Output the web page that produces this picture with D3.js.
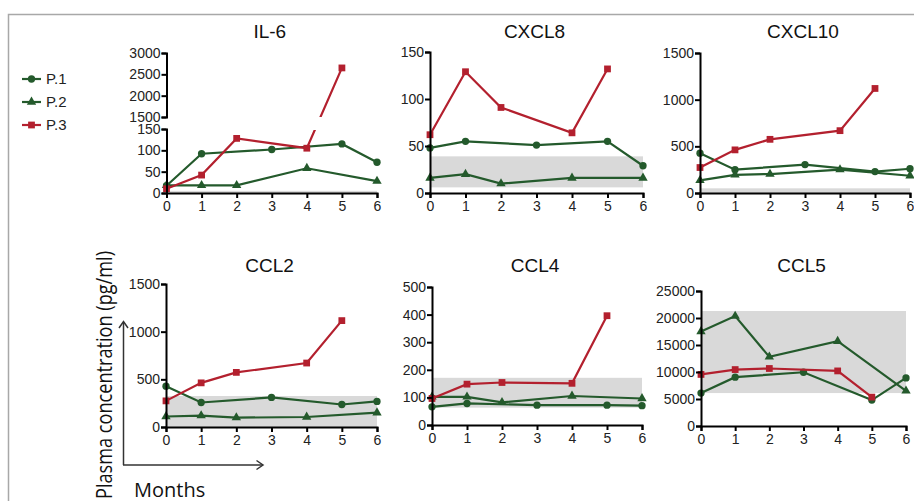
<!DOCTYPE html>
<html>
<head>
<meta charset="utf-8">
<script src="https://d3js.org/d3.v7.min.js"></script>
<style>
  body { margin: 0; background: #fff; }
  svg text { font-family: "Liberation Sans", Arial, sans-serif; }
</style>
</head>
<body>
<script>
// ---- data (null = no sample that month) ----
var months = [0, 1, 2, 3, 4, 5, 6];
var patients = ["P.1", "P.2", "P.3"];

var il6_p1 = [17, 92, null, 102, null, 115, 72];
var il6_p2 = [18, 18, 18, null, 58, null, 28];
var il6_p3 = [10, 42, 128, null, 105, 2650, null];

var cxcl8_p1 = [48, 55, null, 51, null, 55, 29];
var cxcl8_p2 = [16, 20, 10, null, 16, null, 16];
var cxcl8_p3 = [62, 129, 91, null, 64, 132, null];

var cxcl10_p1 = [427, 250, null, 305, null, 230, 260];
var cxcl10_p2 = [135, 195, 203, null, 250, null, 185];
var cxcl10_p3 = [273, 462, 575, null, 668, 1120, null];

var ccl2_p1 = [428, 257, null, 310, null, 236, 268];
var ccl2_p2 = [110, 120, 98, null, 105, null, 150];
var ccl2_p3 = [274, 463, 573, null, 671, 1116, null];

var ccl4_p1 = [66, 78, null, 72, null, 72, 70];
var ccl4_p2 = [102, 102, 82, null, 105, null, 96];
var ccl4_p3 = [96, 148, 154, null, 151, 396, null];

var ccl5_p1 = [6100, 9050, null, 9950, null, 4800, 8900];
var ccl5_p2 = [17500, 20350, 12800, null, 15700, null, 6500];
var ccl5_p3 = [9550, 10450, 10650, null, 10200, 5350, null];

// normal range (grey band)
var il6_band = [0, 5];
var cxcl8_band = [6, 39];
var cxcl10_band = [0, 50];
var ccl2_band = [0, 325];
var ccl4_band = [63, 171];
var ccl5_band = [6100, 21300];

var il6_ticksLow = [0, 50, 100, 150];
var il6_ticksHigh = [1500, 2000, 2500, 3000];
var cxcl8_ticks = [0, 50, 100, 150];
var cxcl10_ticks = [0, 500, 1000, 1500];
var ccl2_ticks = [0, 500, 1000, 1500];
var ccl4_ticks = [0, 100, 200, 300, 400, 500];
var ccl5_ticks = [0, 5000, 10000, 15000, 20000, 25000];

var colors = ["#245a2c", "#245a2c", "#b3202e"];
var symbols = [d3.symbolCircle, d3.symbolTriangle, d3.symbolSquare];
var symSize = [42, 38, 46];

// ---- layout ----
var W = 914, H = 501;
var svg = d3.select("body").append("svg").attr("width", W).attr("height", H);

// page frame
svg.append("path").attr("d", "M8.5," + H + "V14.5H" + W)
  .attr("fill", "none").attr("stroke", "#a8a8a8").attr("stroke-width", 1.5);

var panels = [
  {name: "IL-6", series: [il6_p1, il6_p2, il6_p3], band: il6_band, x0: 166.5, x1: 377, broken: true,
   low: {dom: [0, 150], rng: [193, 129], ticks: il6_ticksLow},
   high: {dom: [1500, 3000], rng: [117, 53], ticks: il6_ticksHigh}, ty: 38},
  {name: "CXCL8", series: [cxcl8_p1, cxcl8_p2, cxcl8_p3], band: cxcl8_band, x0: 430, x1: 643,
   low: {dom: [0, 150], rng: [193, 52], ticks: cxcl8_ticks}, ty: 38},
  {name: "CXCL10", series: [cxcl10_p1, cxcl10_p2, cxcl10_p3], band: cxcl10_band, x0: 700, x1: 910,
   low: {dom: [0, 1500], rng: [193, 53], ticks: cxcl10_ticks}, ty: 38},
  {name: "CCL2", series: [ccl2_p1, ccl2_p2, ccl2_p3], band: ccl2_band, x0: 166, x1: 377,
   low: {dom: [0, 1500], rng: [427, 284], ticks: ccl2_ticks}, ty: 272},
  {name: "CCL4", series: [ccl4_p1, ccl4_p2, ccl4_p3], band: ccl4_band, x0: 432, x1: 642,
   low: {dom: [0, 500], rng: [425, 287], ticks: ccl4_ticks}, ty: 272},
  {name: "CCL5", series: [ccl5_p1, ccl5_p2, ccl5_p3], band: ccl5_band, x0: 701, x1: 906,
   low: {dom: [0, 25000], rng: [426, 291], ticks: ccl5_ticks}, ty: 272}
];

function styleAxis(g) {
  g.selectAll("path.domain").attr("stroke", "#000").attr("stroke-width", 2);
  g.selectAll(".tick line").attr("stroke", "#000").attr("stroke-width", 2);
  g.selectAll(".tick text").attr("fill", "#222").style("font-size", "14px");
}

panels.forEach(function(p, pi) {
  var g = svg.append("g");
  var x = d3.scaleLinear().domain([0, 6]).range([p.x0, p.x1]);
  var yLow = d3.scaleLinear().domain(p.low.dom).range(p.low.rng);
  var yHigh = p.high ? d3.scaleLinear().domain(p.high.dom).range(p.high.rng) : null;
  var y = function(v) { return (yHigh && v > p.low.dom[1]) ? yHigh(v) : yLow(v); };

  // grey band
  g.append("rect")
    .attr("x", x(0)).attr("width", x(6) - x(0))
    .attr("y", yLow(p.band[1])).attr("height", yLow(p.band[0]) - yLow(p.band[1]))
    .attr("fill", "#d9d9d9");

  // title
  g.append("text").attr("x", (p.x0 + p.x1) / 2 - 2).attr("y", p.ty)
    .attr("text-anchor", "middle").style("font-size", "19px").attr("fill", "#111").text(p.name);

  // clipping for broken axis
  var clipId = null;
  if (p.broken) {
    clipId = "clip" + pi;
    var cp = svg.append("defs").append("clipPath").attr("id", clipId);
    cp.append("rect").attr("x", p.x0).attr("width", p.x1 - p.x0 + 10)
      .attr("y", p.high.rng[1] - 10).attr("height", p.high.rng[0] - p.high.rng[1] + 10);
    cp.append("rect").attr("x", p.x0 - 10).attr("width", p.x1 - p.x0 + 20)
      .attr("y", p.low.rng[1] + 1).attr("height", p.low.rng[0] - p.low.rng[1] + 10);
  }

  // series lines + markers
  p.series.forEach(function(vals, si) {
    var pts = months.map(function(m, i) { return {m: m, v: vals[i]}; })
      .filter(function(d) { return d.v !== null; });
    var line = d3.line().x(function(d) { return x(d.m); }).y(function(d) { return y(d.v); });
    var path = g.append("path").datum(pts).attr("d", line)
      .attr("fill", "none").attr("stroke", colors[si]).attr("stroke-width", 2.2);
    if (clipId) path.attr("clip-path", "url(#" + clipId + ")");
    g.selectAll(null).data(pts).enter().append("path")
      .attr("d", d3.symbol().type(symbols[si]).size(symSize[si]))
      .attr("transform", function(d) { return "translate(" + x(d.m) + "," + y(d.v) + ")"; })
      .attr("fill", colors[si]);
  });

  // axes
  var xa = g.append("g").attr("transform", "translate(0," + p.low.rng[0] + ")")
    .call(d3.axisBottom(x).tickValues(months).tickFormat(d3.format("d"))
      .tickSizeOuter(0).tickSize(5).tickPadding(3));
  styleAxis(xa);
  var ya = g.append("g").attr("transform", "translate(" + p.x0 + ",0)")
    .call(d3.axisLeft(yLow).tickValues(p.low.ticks).tickFormat(d3.format("d")).tickSizeOuter(0).tickSize(5).tickPadding(1));
  styleAxis(ya);
  if (yHigh) {
    var yb = g.append("g").attr("transform", "translate(" + p.x0 + ",0)")
      .call(d3.axisLeft(yHigh).tickValues(p.high.ticks).tickFormat(d3.format("d")).tickSizeOuter(0).tickSize(5).tickPadding(1));
    styleAxis(yb);
  }
});

// legend
var leg = svg.append("g");
patients.forEach(function(name, i) {
  var ly = 79 + i * 23;
  leg.append("line").attr("x1", 22).attr("x2", 41).attr("y1", ly).attr("y2", ly)
    .attr("stroke", colors[i]).attr("stroke-width", 2.2);
  leg.append("path").attr("d", d3.symbol().type(symbols[i]).size(symSize[i])())
    .attr("transform", "translate(31.5," + ly + ")").attr("fill", colors[i]);
  leg.append("text").attr("x", 46).attr("y", ly + 5).style("font-size", "15px").attr("fill", "#222").text(name);
});

// generic axis cue (arrows + labels)
var cue = svg.append("g").attr("stroke", "#333").attr("stroke-width", 1.5).attr("fill", "none");
cue.append("path").attr("d", "M123.5,465V322");
cue.append("path").attr("d", "M119,328L123.5,321.5L128,328");
cue.append("path").attr("d", "M123,465H263");
cue.append("path").attr("d", "M256.5,460.5L263,465L256.5,469.5");

svg.append("text").attr("transform", "translate(112,251) rotate(-90)")
  .attr("text-anchor", "end").attr("textLength", 248).attr("lengthAdjust", "spacingAndGlyphs")
  .style("font-family", "'Open Sans', sans-serif").style("font-size", "21px")
  .attr("fill", "#111").text("Plasma concentration (pg/ml)");
svg.append("text").attr("x", 134).attr("y", 497)
  .style("font-family", "'Open Sans', sans-serif").style("font-size", "20px")
  .attr("fill", "#111").text("Months");
</script>
</body>
</html>
